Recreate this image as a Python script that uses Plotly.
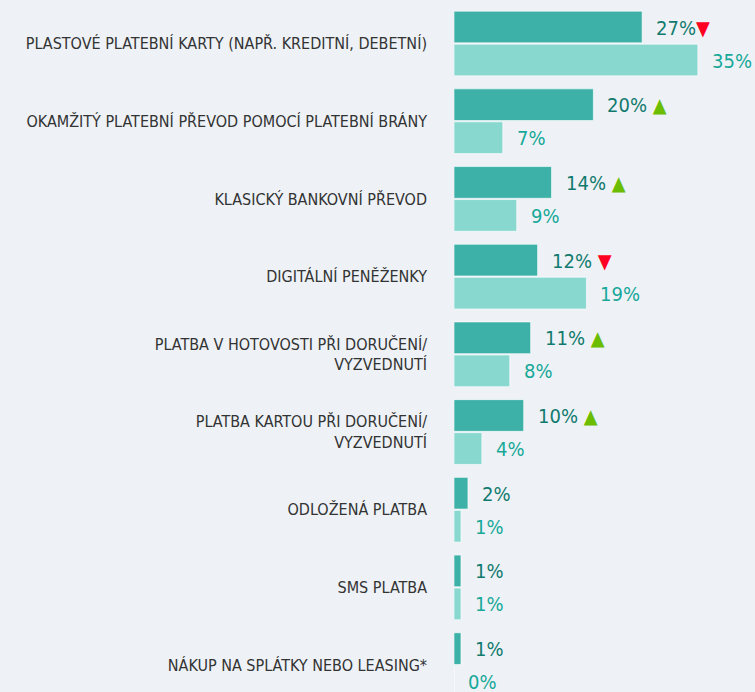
import plotly.graph_objects as go

categories = [
    "PLASTOVÉ PLATEBNÍ KARTY (NAPŘ. KREDITNÍ, DEBETNÍ)",
    "OKAMŽITÝ PLATEBNÍ PŘEVOD POMOCÍ PLATEBNÍ BRÁNY",
    "KLASICKÝ BANKOVNÍ PŘEVOD",
    "DIGITÁLNÍ PENĚŽENKY",
    "PLATBA V HOTOVOSTI PŘI DORUČENÍ/<br>VYZVEDNUTÍ",
    "PLATBA KARTOU PŘI DORUČENÍ/<br>VYZVEDNUTÍ",
    "ODLOŽENÁ PLATBA",
    "SMS PLATBA",
    "NÁKUP NA SPLÁTKY NEBO LEASING*",
]
current = [27, 20, 14, 12, 11, 10, 2, 1, 1]
previous = [35, 7, 9, 19, 8, 4, 1, 1, 0]
trend = ["down", "up", "up", "down", "up", "up", "", "", ""]

DARK = "#3db1a7"
LIGHT = "#88d8d0"
DARK_TXT = "#117a6e"
LIGHT_TXT = "#17a899"
BG = "#eef2f6"
FONT = "DejaVu Sans Condensed, Liberation Sans Narrow, Arial Narrow, sans-serif"

fig = go.Figure()
fig.add_trace(go.Bar(y=categories, x=current, orientation="h",
                     marker=dict(color=DARK, line=dict(color="rgba(255,255,255,0.6)", width=1)), hoverinfo="skip"))
fig.add_trace(go.Bar(y=categories, x=previous, orientation="h",
                     marker=dict(color=LIGHT, line=dict(color="rgba(255,255,255,0.6)", width=1)), hoverinfo="skip"))

for i, (c, v, p, t) in enumerate(zip(categories, current, previous, trend)):
    arrow = ""
    if t == "down":
        arrow = "<span style='color:#ff0022'>▼</span>"
    elif t == "up":
        arrow = "<span style='color:#6cbd00'>▲</span>"
    sep = "" if v >= 25 else " "
    fig.add_annotation(x=v, y=c, text=f"{v}%" + (sep + arrow if arrow else ""), xanchor="left", yanchor="middle",
                       xshift=12, yshift=16, showarrow=False, font=dict(family=FONT, size=20, color=DARK_TXT))
    fig.add_annotation(x=p, y=c, text=f"{p}%", xanchor="left", yanchor="middle",
                       xshift=12, yshift=-17, showarrow=False, font=dict(family=FONT, size=20, color=LIGHT_TXT))

fig.update_layout(
    width=755, height=692,
    margin=dict(l=454, r=0, t=0, b=0),
    paper_bgcolor=BG, plot_bgcolor=BG,
    barmode="group", bargap=0.15, bargroupgap=0.04,
    showlegend=False,
    font=dict(family=FONT),
)
fig.update_xaxes(range=[0, 43.2], visible=False, fixedrange=True)
fig.update_yaxes(type="category", range=[8.346, -0.56], showgrid=False, zeroline=False, showline=False,
                 ticks="", ticklabelstandoff=26, fixedrange=True,
                 tickfont=dict(family=FONT, size=16, color="#333333"))

fig.write_html("out.html", config={"displayModeBar": False},
               post_script="document.body.style.margin='0';document.body.style.background='#eef2f6';document.body.style.overflow='hidden';")
